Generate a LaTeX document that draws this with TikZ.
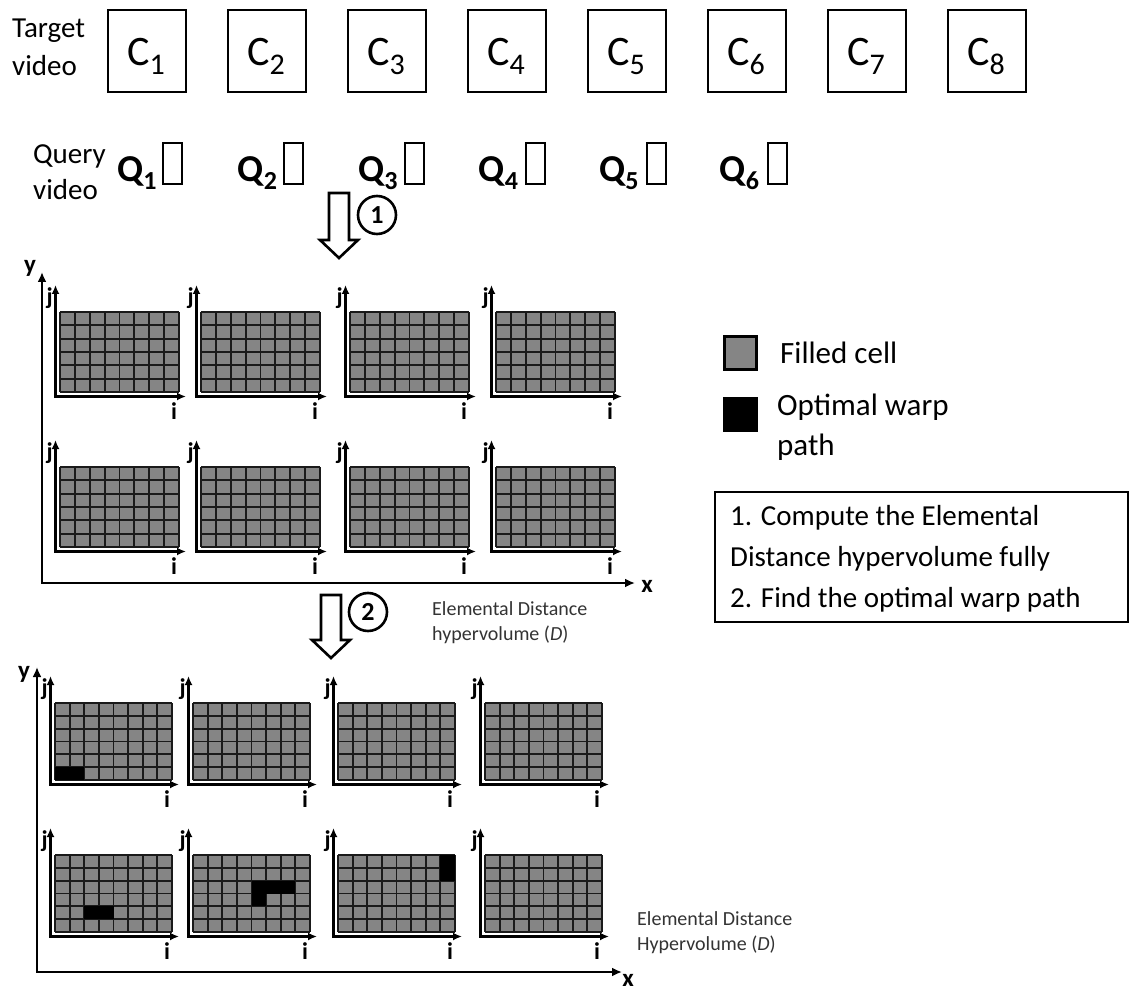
\documentclass[tikz,border=0pt]{standalone}
\usepackage{fontspec}
\setmainfont{Carlito}
\usetikzlibrary{arrows.meta}
\definecolor{cellgray}{HTML}{858585}
\definecolor{gridline}{HTML}{1A1A1A}
\definecolor{textgray}{HTML}{333333}
\tikzset{
  mainaxis/.style={line width=2.6pt, {Latex[length=10pt,width=9pt]}-{Latex[length=10pt,width=9pt]}},
  paxis/.style={line width=2.2pt, {Latex[length=9pt,width=8pt]}-{Latex[length=9pt,width=8pt]}},
  gridl/.style={draw=gridline, line width=1.8pt},
  ijlbl/.style={font=\bfseries\fontsize{24}{24}\selectfont, inner sep=0pt},
  xylbl/.style={font=\bfseries\fontsize{25}{25}\selectfont, inner sep=0pt},
  bigtxt/.style={font=\fontsize{29}{29}\selectfont, inner sep=0pt, anchor=base west},
  legtxt/.style={font=\fontsize{31}{31}\selectfont, inner sep=0pt, anchor=base west},
  smalltxt/.style={font=\fontsize{20}{20}\selectfont, text=textgray, inner sep=0pt, anchor=base west},
  cbox/.style={draw, line width=2.6pt, minimum width=78pt, minimum height=82pt, inner sep=0pt},
  qbox/.style={draw, line width=2.6pt, minimum width=19pt, minimum height=41pt, inner sep=0pt},
  blockarrow/.style={draw, line width=2.6pt, fill=white, line join=miter},
  stepnum/.style={circle, draw, line width=2.6pt, minimum size=38pt, inner sep=0pt, font=\bfseries\fontsize{26}{26}\selectfont},
}
\newcommand{\Csub}[1]{{\fontsize{42}{42}\selectfont C\raisebox{-9pt}{\fontsize{30}{30}\selectfont #1}}}
\newcommand{\Qsub}[1]{{\bfseries\fontsize{38}{38}\selectfont Q\raisebox{-8pt}{\fontsize{26}{26}\selectfont #1}}}
\newcommand{\bc}[2]{\fill[black] ({#1*\cw},{#2*\ch}) rectangle ++(\cw,\ch);}
\newcommand{\dtwpanel}[6]{%
  \begin{scope}[shift={(#2,#3)}]
    \pgfmathsetmacro{\cw}{#4/8}
    \pgfmathsetmacro{\ch}{#5/6}
    \fill[cellgray] (0,0) rectangle (#4,#5);
    \foreach \k in {0,...,8} \draw[gridl] ({\k*\cw},0) -- ({\k*\cw},#5);
    \foreach \k in {0,...,6} \draw[gridl] (0,{\k*\ch}) -- (#4,{\k*\ch});
    #6
    \draw[paxis] (-4.5,-27) -- (-4.5,#5+4.5) -- (#4+7,#5+4.5);
    \node[ijlbl, anchor=east] (j#1) at (-7,-14) {j};
    \node[ijlbl] (i#1) at (#4-5,#5+19) {i};
  \end{scope}}
\begin{document}
\begin{tikzpicture}[x=1pt,y=-1pt]
\useasboundingbox (0,0) rectangle (1130,992);

% ---- target video ----
\node[bigtxt] (tgt1) at (12,38) {Target};
\node[bigtxt] (tgt2) at (12,76) {video};
\foreach \k in {1,...,8} {
  \pgfmathsetmacro{\bx}{147+120*(\k-1)}
  \node[cbox] (box\k) at (\bx,51) {};
  \node[anchor=base, inner sep=0pt] (C\k) at (\bx-1,66) {\Csub{\k}};
}

% ---- query video ----
\node[bigtxt] (qry1) at (33,164) {Query};
\node[bigtxt] (qry2) at (33,200) {video};
\foreach \k in {1,...,6} {
  \pgfmathsetmacro{\qx}{117+120.5*(\k-1)}
  \pgfmathsetmacro{\rx}{172.5+121*(\k-1)}
  \node[anchor=base west, inner sep=0pt] (Q\k) at (\qx,182) {\Qsub{\k}};
  \node[qbox] (qr\k) at (\rx,163.5) {};
}

% ---- step 1 ----
\draw[blockarrow] (329,193) -- (349,193) -- (349,240) -- (358,240) -- (339,258) -- (320,240) -- (329,240) -- cycle;
\node[stepnum] (s1) at (377,215) {1};

% ---- top hypervolume ----
\draw[mainaxis] (42,272) -- (42,583) -- (635,583);
\node[xylbl] (ytop) at (30,268) {y};
\node[xylbl] (xtop) at (647,586) {x};
\dtwpanel{t1}{60}{312}{119}{80}{}
\dtwpanel{t2}{201}{312}{119}{80}{}
\dtwpanel{t3}{350}{312}{119}{80}{}
\dtwpanel{t4}{496}{312}{119}{80}{}
\dtwpanel{t5}{60}{467}{119}{80}{}
\dtwpanel{t6}{201}{467}{119}{80}{}
\dtwpanel{t7}{350}{467}{119}{80}{}
\dtwpanel{t8}{496}{467}{119}{80}{}

% ---- step 2 ----
\draw[blockarrow] (321,595) -- (341,595) -- (341,640) -- (350,640) -- (331,658) -- (312,640) -- (321,640) -- cycle;
\node[stepnum] (s2) at (368,612) {2};
\node[smalltxt] (ed1) at (432,615) {Elemental Distance};
\node[smalltxt] (ed2) at (432,640) {hypervolume (\textit{D})};

% ---- bottom hypervolume ----
\draw[mainaxis] (37,667) -- (37,972) -- (622,972);
\node[xylbl] (ybot) at (24,674) {y};
\node[xylbl] (xbot) at (628,980) {x};
\dtwpanel{b1}{55}{703}{117}{77}{\bc{0}{5}\bc{1}{5}}
\dtwpanel{b2}{193}{703}{117}{77}{}
\dtwpanel{b3}{338}{703}{117}{77}{}
\dtwpanel{b4}{485}{703}{117}{77}{}
\dtwpanel{b5}{55}{855}{117}{77}{\bc{2}{4}\bc{3}{4}}
\dtwpanel{b6}{193}{855}{117}{77}{\bc{4}{2}\bc{5}{2}\bc{6}{2}\bc{4}{3}}
\dtwpanel{b7}{338}{855}{117}{77}{\bc{7}{0}\bc{7}{1}}
\dtwpanel{b8}{485}{855}{117}{77}{}
\node[smalltxt] (ed3) at (637,925) {Elemental Distance};
\node[smalltxt] (ed4) at (637,950) {Hypervolume (\textit{D})};

% ---- legend ----
\node[draw, line width=3pt, fill=cellgray, minimum size=32pt, inner sep=0pt] (lg1) at (740.5,353) {};
\node[fill=black, minimum size=35pt, inner sep=0pt] (lg2) at (740.5,414.5) {};
\node[legtxt] (lt1) at (780,363) {Filled cell};
\node[legtxt] (lt2) at (777,415) {Optimal warp};
\node[legtxt] (lt3) at (777,455) {path};

\draw[line width=1.5pt] (715,492) rectangle (1128,622);
\node[bigtxt] (st1) at (730,525) {1. Compute the Elemental};
\node[bigtxt] (st2) at (730,566) {Distance hypervolume fully};
\node[bigtxt] (st3) at (730,607) {2. Find the optimal warp path};
\end{tikzpicture}
\end{document}
